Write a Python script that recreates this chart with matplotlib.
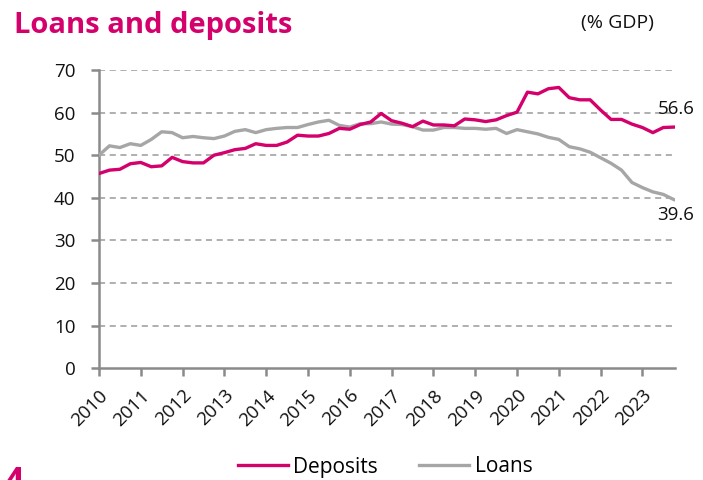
import numpy as np
import matplotlib.pyplot as plt

pink = '#d4006c'
grey = '#a6a6a6'

years = list(range(2010, 2024))

# quarterly, 2010Q1 .. 2023Q4 (% of GDP)
deposits = [45.7, 46.5, 46.7, 48.0, 48.3, 47.3, 47.5, 49.5, 48.5, 48.2, 48.2, 50.0, 50.6, 51.3,
            51.6, 52.7, 52.3, 52.3, 53.1, 54.7, 54.5, 54.5, 55.1, 56.3, 56.1, 57.2, 57.8, 59.8,
            58.1, 57.5, 56.7, 58.0, 57.1, 57.1, 56.9, 58.5, 58.3, 57.9, 58.3, 59.3,
            60.1, 64.8, 64.4, 65.6, 65.9, 63.5, 63.0, 63.0, 60.6, 58.4, 58.4, 57.3, 56.5, 55.3, 56.5, 56.6]
loans = [50.0, 52.2, 51.8, 52.7, 52.3, 53.7, 55.5, 55.3, 54.1, 54.4, 54.1, 53.9, 54.5, 55.6,
         56.0, 55.3, 56.0, 56.3, 56.5, 56.5, 57.2, 57.8, 58.2, 57.0, 56.6, 57.4, 57.4, 57.8,
         57.3, 57.2, 56.7, 55.9, 55.9, 56.5, 56.5, 56.3, 56.3, 56.1, 56.3, 55.1,
         56.0, 55.5, 55.0, 54.2, 53.7, 52.0, 51.5, 50.7, 49.4, 48.1, 46.5, 43.6, 42.4, 41.4, 40.8, 39.6]

t = 2010 + np.arange(len(deposits)) * 0.25

plt.rcParams['font.family'] = ['Open Sans', 'DejaVu Sans']

fig = plt.figure(figsize=(7.03, 4.80), dpi=100)
ax = fig.add_axes([0.1408, 0.2327, 0.8194, 0.6215])

for y in range(10, 80, 10):
    ax.axhline(y, color='#9a9a9a', lw=1.1, ls=(0, (4, 3)), zorder=1)

ax.plot(t, loans, color=grey, lw=2.4, label='Loans', zorder=3)
ax.plot(t, deposits, color=pink, lw=2.4, label='Deposits', zorder=4)

ax.set_xlim(2010, 2023.78)
ax.set_ylim(0, 70)
ax.set_yticks(range(0, 80, 10))
ax.set_xticks(years)
ax.set_xticklabels([str(y) for y in years], rotation=45, ha='right', rotation_mode='anchor')

for s in ['top', 'right']:
    ax.spines[s].set_visible(False)
for s in ['left', 'bottom']:
    ax.spines[s].set_color('#8a8a8a')
    ax.spines[s].set_linewidth(1.8)
ax.tick_params(axis='both', colors='#8a8a8a', width=1.8, length=6, labelcolor='#111111', labelsize=13.5)
ax.tick_params(axis='y', pad=11)
ax.tick_params(axis='x', pad=7)

ax.text(t[-1] + 0.05, deposits[-1] + 2.2, f'{deposits[-1]:.1f}', ha='center', va='bottom', fontsize=13.5, color='#111111')
ax.text(t[-1] + 0.05, loans[-1] - 1.6, f'{loans[-1]:.1f}', ha='center', va='top', fontsize=13.5, color='#111111')

fig.text(14 / 703, 1 - 26 / 480, 'Loans and deposits', color=pink, fontsize=21, fontweight='bold', ha='left', va='center')
fig.text(617 / 703, 1 - 23 / 480, '(% GDP)', color='#111111', fontsize=14, ha='center', va='center')
fig.text(3 / 703, 1 - 466 / 480, '4', color=pink, fontsize=26, fontweight='bold', ha='left', va='top')

h, l = ax.get_legend_handles_labels()
fig.legend([h[1], h[0]], [l[1], l[0]], loc='center', bbox_to_anchor=(385 / 703, 1 - 467 / 480), ncol=2,
           frameon=False, fontsize=15, handlelength=2.4, handletextpad=0.25, columnspacing=2.0)

fig.savefig('out.png', dpi=100)
